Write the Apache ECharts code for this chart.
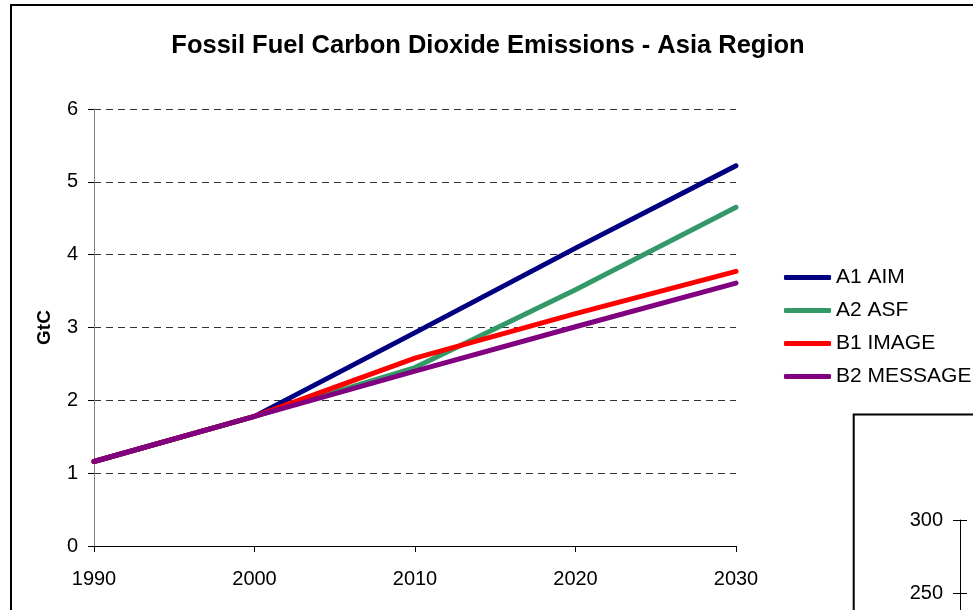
<!DOCTYPE html>
<html>
<head>
<meta charset="utf-8">
<script src="https://cdn.jsdelivr.net/npm/echarts@6/dist/echarts.min.js"></script>
<style>
  html, body { margin: 0; padding: 0; background: #fff; }
  #chart { width: 973px; height: 610px; }
</style>
</head>
<body>
<div id="chart"></div>
<script>
// Years on the horizontal axis
const years = ['1990', '2000', '2010', '2020', '2030'];

// Fossil fuel CO2 emissions, Asia region (GtC), by scenario
const a1Aim = [1.16, 1.78, 2.93, 4.09, 5.22];
const a2Asf = [1.16, 1.78, 2.45, 3.52, 4.65];
const b1Image = [1.16, 1.78, 2.58, 3.19, 3.77];
const b2Message = [1.16, 1.78, 2.40, 3.01, 3.61];

const seriesNames = ['A1 AIM', 'A2 ASF', 'B1 IMAGE', 'B2 MESSAGE'];
const seriesColors = ['#000080', '#339966', '#FF0000', '#800080'];
const seriesData = [a1Aim, a2Asf, b1Image, b2Message];

// Tick values of the neighbouring panel's axis
const sidePanelTicks = { min: 0, max: 300, interval: 50 };

const font = '"Liberation Sans", Arial, sans-serif';

const chart = echarts.init(document.getElementById('chart'), null, { renderer: 'canvas' });

chart.setOption({
  animation: false,
  backgroundColor: '#ffffff',
  title: {
    text: 'Fossil Fuel Carbon Dioxide Emissions - Asia Region',
    left: 483,
    top: 28,
    textAlign: 'center',
    textStyle: { fontFamily: font, fontSize: 25.5, fontWeight: 'bold', color: '#000' }
  },
  legend: {
    orient: 'vertical',
    left: 784,
    top: 267,
    padding: 0,
    itemWidth: 47,
    itemHeight: 5,
    itemGap: 12,
    icon: 'roundRect',
    textStyle: { fontFamily: font, fontSize: 21, color: '#000' },
    data: seriesNames
  },
  graphic: [
    {
      type: 'rect',
      z: -10,
      shape: { x: 11, y: 5, width: 1400, height: 900 },
      style: { fill: 'none', stroke: '#000', lineWidth: 2 }
    },
    {
      type: 'rect',
      z: -5,
      shape: { x: 853.7, y: 414.5, width: 600, height: 600 },
      style: { fill: '#fff', stroke: '#000', lineWidth: 2 }
    }
  ],
  grid: [
    { left: 94, right: 237, top: 109, bottom: 64, outerBoundsMode: 'none' },
    { left: 960, top: 520, width: 200, height: 438, outerBoundsMode: 'none' }
  ],
  xAxis: [
    {
      type: 'category',
      gridIndex: 0,
      data: years,
      boundaryGap: false,
      axisLine: { lineStyle: { color: '#000', width: 1 } },
      axisTick: { show: true, length: 6, lineStyle: { color: '#000' } },
      axisLabel: { fontFamily: font, fontSize: 20, color: '#000', margin: 23 },
      splitLine: { show: false }
    },
    {
      type: 'value',
      gridIndex: 1,
      show: false
    }
  ],
  yAxis: [
    {
      type: 'value',
      gridIndex: 0,
      min: 0,
      max: 6,
      interval: 1,
      name: 'GtC',
      nameLocation: 'middle',
      nameRotate: 90,
      nameGap: 40,
      nameTextStyle: { fontFamily: font, fontSize: 19, fontWeight: 'bold', color: '#000' },
      axisLine: { show: true, lineStyle: { color: '#808080', width: 1 } },
      axisTick: { show: true, length: 6, lineStyle: { color: '#000' } },
      axisLabel: { fontFamily: font, fontSize: 20, color: '#000', margin: 16 },
      splitLine: { show: true, lineStyle: { color: '#333', width: 1, type: [7, 5] } }
    },
    {
      type: 'value',
      gridIndex: 1,
      position: 'left',
      min: sidePanelTicks.min,
      max: sidePanelTicks.max,
      interval: sidePanelTicks.interval,
      axisLine: { show: true, lineStyle: { color: '#000', width: 1 } },
      axisTick: { show: true, length: 7, lineStyle: { color: '#000' } },
      axisLabel: { fontFamily: font, fontSize: 20, color: '#000', margin: 17, showMaxLabel: true },
      splitLine: { show: false }
    },
    {
      type: 'value',
      gridIndex: 1,
      position: 'left',
      offset: 0,
      min: sidePanelTicks.min,
      max: sidePanelTicks.max,
      interval: sidePanelTicks.interval,
      axisLine: { show: false },
      axisTick: { show: true, inside: true, length: 7, lineStyle: { color: '#000' } },
      axisLabel: { show: false },
      splitLine: { show: false }
    }
  ],
  series: seriesData.map((vals, i) => ({
    name: seriesNames[i],
    type: 'line',
    xAxisIndex: 0,
    yAxisIndex: 0,
    data: vals,
    symbol: 'none',
    color: seriesColors[i],
    lineStyle: { color: seriesColors[i], width: 5, cap: 'round', join: 'round' },
    z: 2 + i
  }))
});
</script>
</body>
</html>
